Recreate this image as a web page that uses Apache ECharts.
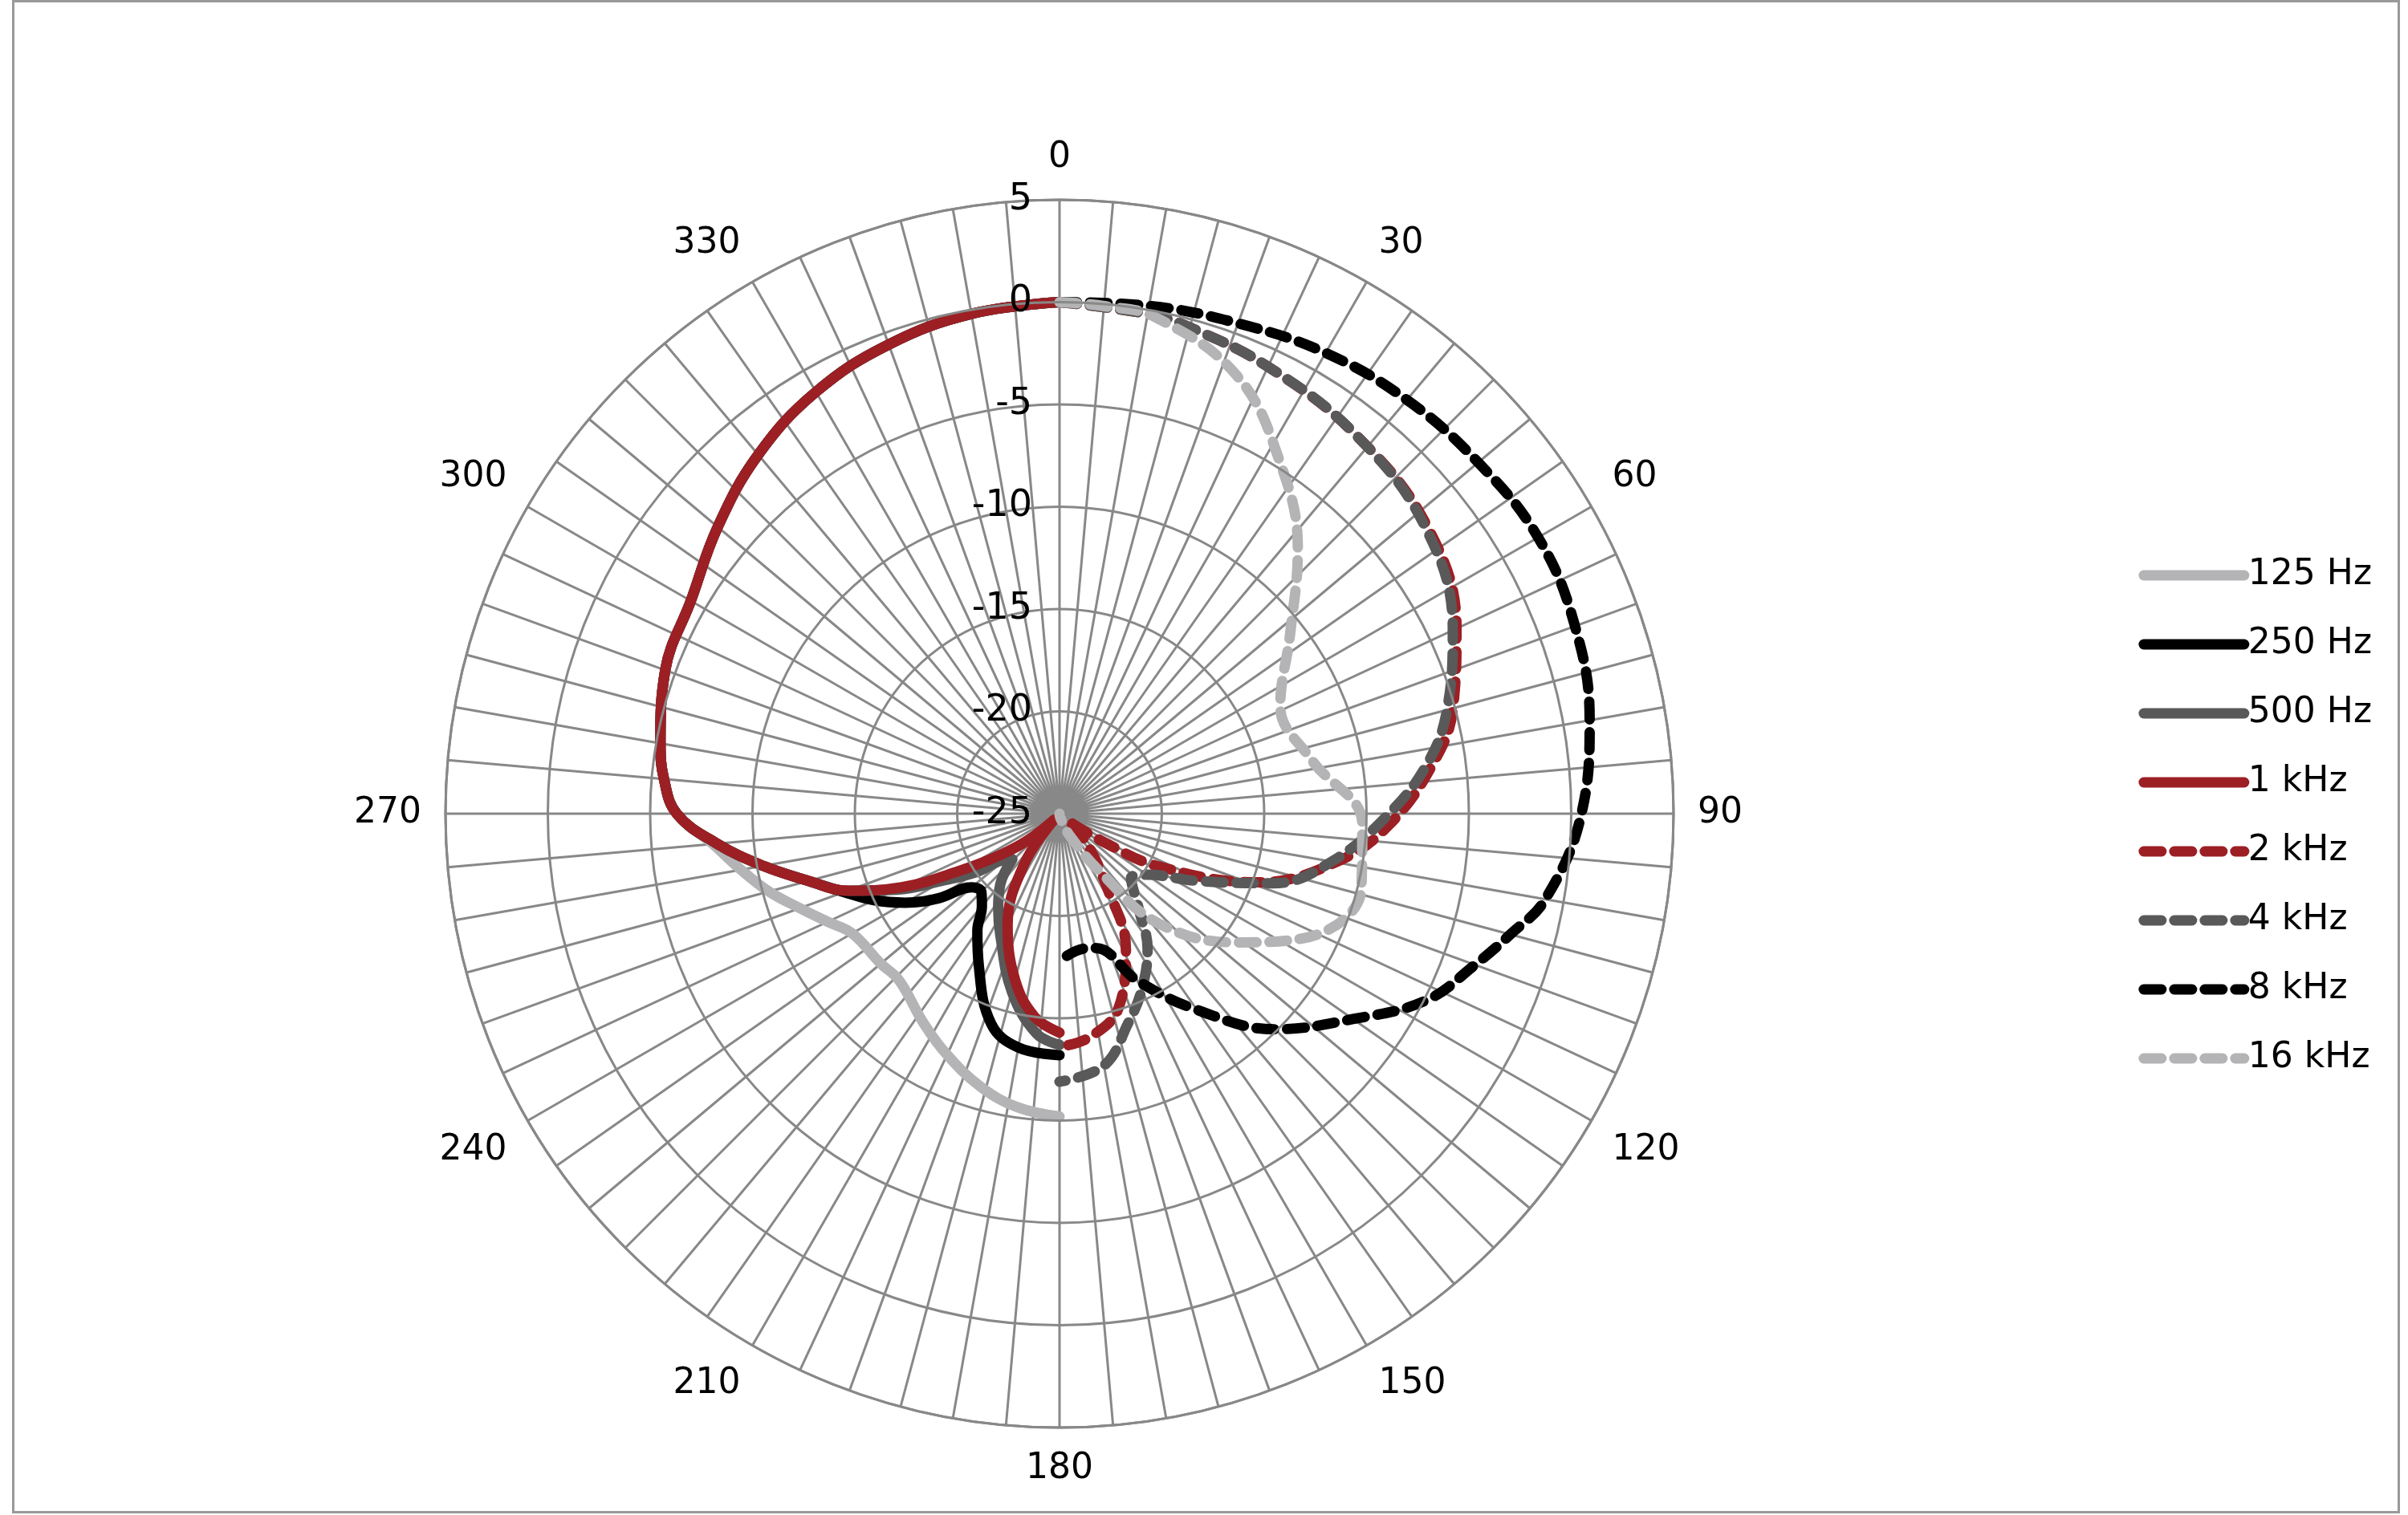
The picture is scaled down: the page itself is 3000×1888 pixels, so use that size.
<!DOCTYPE html>
<html><head><meta charset="utf-8">
<script src="https://cdn.jsdelivr.net/npm/echarts@6/dist/echarts.min.js"></script>
<style>html,body{margin:0;padding:0;background:#fff}#c{width:3000px;height:1888px}#f{position:absolute;left:15px;top:0;width:2975px;height:1886px;box-sizing:border-box;border:3px solid #999;pointer-events:none}</style>
</head><body><div id="c"></div><div id="f"></div>
<script>
const seriesNames = ['125 Hz','250 Hz','500 Hz','1 kHz','2 kHz','4 kHz','8 kHz','16 kHz'];
const radiusTicks = [-25,-20,-15,-10,-5,0,5];
// [angle deg, level dB]
const s125 = [[180,-10.2],[188,-10.5],[196,-11.1],[205,-12],[213,-12.8],[224,-13.7],[230,-13.6],[240,-13.3],[245,-12.5],[250,-11.5],[255,-10.3],[260,-9.2],[265,-8],[270,-6.3],[275,-5.6],[280,-5.2],[290,-4.5],[300,-4.2],[310,-3.2],[320,-2.1],[330,-1.2],[340,-0.6],[350,-0.2],[360,0]];
const s250 = [[180,-13.2],[190,-13.4],[198,-14.2],[208,-16.6],[215,-18],[220,-19.1],[225,-19.6],[230,-19.4],[235,-17.8],[240,-16.3],[245,-15],[250,-13.8],[255,-12.3],[260,-10.3],[265,-8.2],[270,-6.3],[275,-5.6],[280,-5.2],[290,-4.5],[300,-4.2],[310,-3.2],[320,-2.1],[330,-1.2],[340,-0.6],[350,-0.2],[360,0]];
const s500 = [[180,-13.7],[186,-14.2],[195,-16],[206,-18.4],[213,-19.5],[220,-20.5],[226,-21.8],[230,-21.5],[235,-20],[240,-18.5],[245,-16.2],[250,-14],[255,-12.3],[260,-10.3],[265,-8.2],[270,-6.3],[275,-5.6],[280,-5.2],[290,-4.5],[300,-4.2],[310,-3.2],[320,-2.1],[330,-1.2],[340,-0.6],[350,-0.2],[360,0]];
const s1k = [[180,-14.3],[187,-15],[195,-16.6],[205,-19],[215,-22],[222,-24.6],[230,-23],[235,-21.5],[240,-19.5],[245,-16.5],[250,-14],[255,-12.3],[260,-10.3],[265,-8.2],[270,-6.3],[275,-5.6],[280,-5.2],[290,-4.5],[300,-4.2],[310,-3.2],[320,-2.1],[330,-1.2],[340,-0.6],[350,-0.2],[360,0]];
const s2k = [[0,0],[10,-0.2],[15,-0.4],[25,-0.9],[38,-1.5],[52,-2.2],[65,-3.6],[75,-5.1],[82,-6.5],[92,-8.9],[100,-11.3],[109,-14.7],[118,-19.5],[123,-22.6],[130,-24.5],[137,-23.1],[147,-20.8],[154,-17.6],[163,-15.1],[172,-14],[180,-13.6]];
const s4k = [[0,0],[10,-0.2],[15,-0.4],[25,-0.9],[38,-1.5],[52,-2.3],[65,-3.8],[75,-5.4],[82,-6.8],[90,-8.9],[100,-11.5],[108,-14],[116,-17.5],[125,-19.8],[132,-20.3],[140,-19],[147,-17.1],[155,-15.5],[162,-14.2],[170,-12.5],[180,-11.9]];
const s8k = [[0,0],[10,0.2],[20,0.5],[30,1],[40,1.4],[50,1.7],[60,2],[70,1.8],[80,1.3],[90,0.5],[100,-0.9],[105,-2.2],[110,-3.4],[117,-4.9],[125,-7.5],[135,-10.1],[145,-13.3],[155,-16],[165,-18.2],[170,-18.3],[180,-17.8]];
const s16k = [[0,0],[5,-0.1],[11,-0.3],[22,-1.9],[32,-4.7],[42,-7.6],[52,-10.7],[64,-13],[78,-12.4],[92,-10.2],[104,-9.8],[117,-11.6],[126,-14.3],[138,-17.8],[145,-21.5],[155,-23.8],[170,-24.8],[180,-25]];
const allData = [s125,s250,s500,s1k,s2k,s4k,s8k,s16k];
const colors = ['#b4b4b6','#000000','#595959','#9c1f24','#9c1f24','#595959','#000000','#b4b4b6'];
const dashed = [false,false,false,false,true,true,true,true];

const chart = echarts.init(document.getElementById('c'));
chart.setOption({
  animation:false,
  textStyle:{fontFamily:'DejaVu Sans'},
  polar:{center:[1320,1014],radius:765},
  angleAxis:{type:'value',min:0,max:360,interval:5,startAngle:90,clockwise:true,
    axisLine:{lineStyle:{color:'#888',width:3}},axisTick:{show:false},
    splitLine:{show:true,lineStyle:{color:'#888',width:3}},
    axisLabel:{fontSize:44,color:'#000',margin:30,formatter:v=>(v%30===0&&v<360)?String(v):''}},
  radiusAxis:{type:'value',min:-25,max:5,interval:5,
    axisLine:{show:false},axisTick:{show:false},
    splitLine:{show:true,lineStyle:{color:'#888',width:3}},
    axisLabel:{fontSize:46,color:'#000',margin:34,formatter:v=>radiusTicks.includes(v)?String(v):''},z:10},
  legend:{orient:'vertical',right:40,top:690,itemWidth:125,itemHeight:16,itemGap:42,
    lineStyle:{width:13,cap:'round'},itemStyle:{opacity:0},
    textStyle:{fontSize:44,color:'#000'},data:seriesNames},
  series: seriesNames.map((n,i)=>({name:n,type:'line',coordinateSystem:'polar',smooth:0.4,symbol:'none',
    data: allData[i].map(p=>[p[1],p[0]]),
    lineStyle:{color:colors[i],width:13,cap:'round',join:'round',type:dashed[i]?[22,16]:'solid'},
    itemStyle:{color:colors[i]}}))
});
</script></body></html>
